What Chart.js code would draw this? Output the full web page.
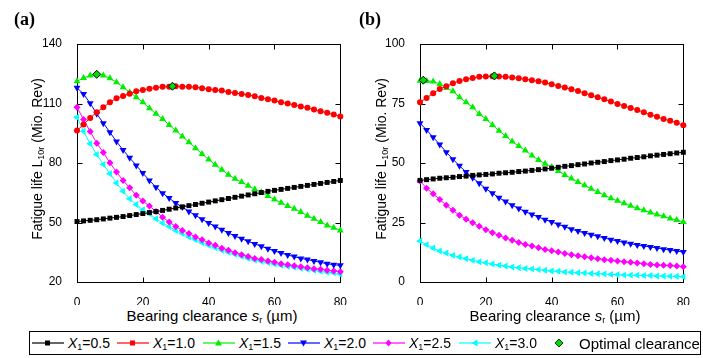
<!DOCTYPE html>
<html>
<head>
<meta charset="utf-8">
<script src="https://cdn.jsdelivr.net/npm/chart.js@4/dist/chart.umd.min.js"></script>
<style>
  body { margin: 0; background: #fff; font-family: "Liberation Sans", Arial, sans-serif; color: #000; }
  #wrap { position: relative; width: 703px; height: 358px; overflow: hidden; }
  canvas { position: absolute; top: 0; }
  .panel { position: absolute; top: 9px; font: bold 18px "Liberation Serif", serif; }
  .ytitle { position: absolute; font-size: 14px; white-space: nowrap; transform: translate(-50%, -50%) rotate(-90deg); }
  .xtitle { position: absolute; font-size: 15px; white-space: nowrap; transform: translate(-50%, -50%); }
  sub { font-size: 9px; vertical-align: -2px; line-height: 0; }
  #legend { position: absolute; left: 29px; top: 331px; width: 670px; height: 22px; border: 1px solid #000; }
  .lg { position: absolute; top: 0; height: 22px; display: flex; align-items: center; font-size: 14px; white-space: nowrap; }
  .lg svg { margin-right: 4px; }
</style>
</head>
<body>
<div id="wrap">
  <canvas id="chartA" width="352" height="305" style="left:0px"></canvas>
  <canvas id="chartB" width="352" height="305" style="left:343px"></canvas>
  <div class="panel" style="left:14px">(a)</div>
  <div class="panel" style="left:359px">(b)</div>
  <div class="ytitle" style="left:37px; top:159px">Fatigue life L<sub>10r</sub> (Mio. Rev)</div>
  <div class="ytitle" style="left:381px; top:159px">Fatigue life L<sub>10r</sub> (Mio. Rev)</div>
  <div class="xtitle" style="left:212px; top:315px">Bearing clearance <i>s</i><sub>r</sub> (µm)</div>
  <div class="xtitle" style="left:555px; top:315px">Bearing clearance <i>s</i><sub>r</sub> (µm)</div>
  <div id="legend"></div>
</div>
<script>
// bearing clearance (µm)
var clearance = [0, 2, 4, 6, 8, 10, 12, 14, 16, 18, 20, 22, 24, 26, 28, 30, 32, 34, 36, 38, 40,
                 42, 44, 46, 48, 50, 52, 54, 56, 58, 60, 62, 64, 66, 68, 70, 72, 74, 76, 78, 80];

var seriesLabels = ['0.5', '1.0', '1.5', '2.0', '2.5', '3.0'];

// panel (a)
var a_x05 = [50.5, 50.8, 51.1, 51.4, 51.8, 52.2, 52.6, 53.0, 53.5, 54.0, 54.5, 55.0, 55.5, 56.1, 56.7, 57.3, 57.9, 58.5, 59.1, 59.7, 60.3,
             60.9, 61.5, 62.1, 62.7, 63.3, 63.9, 64.5, 65.1, 65.7, 66.2, 66.7, 67.2, 67.7, 68.2, 68.7, 69.2, 69.7, 70.2, 70.7, 71.2];
var a_x10 = [96.4, 99.4, 102.7, 105.6, 108.1, 110.6, 112.6, 113.8, 114.9, 116.2, 116.8, 117.5, 118.0, 118.4, 118.5, 118.7, 118.5, 118.5, 118.2, 117.7, 117.2,
             116.8, 116.5, 115.8, 115.3, 114.8, 114.3, 113.7, 112.8, 112.1, 111.5, 110.6, 110.0, 109.3, 108.5, 107.8, 107.0, 106.1, 105.3, 104.4, 103.4];
var a_x15 = [121.2, 122.9, 124.1, 124.7, 124.1, 122.7, 120.7, 118.2, 115.7, 113.2, 110.6, 107.6, 104.8, 102.2, 99.2, 96.4, 93.4, 90.5, 87.5, 84.6, 81.8,
             79.1, 76.6, 74.1, 72.0, 70.4, 68.5, 66.8, 65.2, 63.3, 61.6, 60.0, 58.3, 56.9, 55.3, 53.4, 51.9, 50.2, 48.5, 47.4, 46.0];
var a_x20 = [117.9, 114.8, 110.1, 104.8, 100.1, 95.5, 90.8, 86.6, 82.6, 78.8, 74.9, 71.2, 67.8, 64.8, 62.3, 59.8, 57.8, 55.6, 53.6, 51.6, 49.7,
             48.0, 46.4, 44.7, 43.2, 41.8, 40.5, 39.2, 38.0, 36.8, 35.6, 34.6, 33.6, 32.8, 31.9, 31.3, 30.6, 29.9, 29.2, 28.7, 28.4];
var a_x25 = [108.1, 101.9, 95.9, 90.0, 85.3, 80.1, 75.4, 71.2, 67.5, 63.7, 60.8, 58.3, 55.6, 52.7, 50.2, 48.0, 46.0, 44.4, 42.7, 41.3, 39.7,
             38.5, 37.0, 36.0, 34.8, 33.8, 32.8, 31.9, 31.3, 30.6, 29.9, 29.2, 28.7, 28.2, 27.7, 27.2, 26.7, 26.4, 25.9, 25.6, 25.2];
var a_x30 = [103.1, 96.0, 89.7, 84.3, 79.3, 74.6, 69.9, 65.8, 62.0, 59.1, 56.4, 54.4, 51.9, 49.7, 48.0, 46.0, 44.4, 42.7, 41.3, 39.8, 38.5,
             37.3, 36.0, 35.0, 34.0, 33.0, 31.9, 31.1, 30.4, 29.8, 29.1, 28.4, 27.9, 27.4, 26.9, 26.4, 25.9, 25.4, 24.9, 24.6, 23.9];
var a_optX = [6, 29];
var a_optY = [124.7, 118.7];

// panel (b)
var b_x05 = [42.7, 43.0, 43.3, 43.6, 43.8, 44.0, 44.3, 44.5, 44.8, 45.0, 45.2, 45.4, 45.7, 45.9, 46.1, 46.4, 46.6, 46.9, 47.2, 47.5, 47.8,
             48.2, 48.6, 48.9, 49.3, 49.6, 50.0, 50.3, 50.6, 51.0, 51.3, 51.6, 52.0, 52.3, 52.6, 53.0, 53.3, 53.6, 53.9, 54.2, 54.5];
var b_x10 = [75.5, 77.3, 79.3, 81.1, 82.2, 83.5, 84.5, 85.2, 85.7, 86.2, 86.3, 86.4, 86.3, 86.2, 85.9, 85.6, 85.2, 84.8, 84.3, 83.8, 83.1,
             82.4, 81.7, 81.0, 80.3, 79.3, 78.5, 77.6, 76.8, 75.8, 74.8, 74.0, 73.1, 72.3, 71.3, 70.3, 69.4, 68.5, 67.7, 66.9, 65.9];
var b_x15 = [84.6, 84.5, 84.2, 83.2, 81.5, 80.1, 77.6, 75.5, 73.4, 70.6, 68.5, 66.0, 63.6, 61.3, 59.0, 57.1, 55.2, 53.1, 51.3, 49.7, 48.3,
             46.6, 45.0, 43.5, 42.0, 40.6, 39.2, 37.8, 36.5, 35.2, 34.1, 33.1, 32.0, 31.0, 30.1, 29.2, 28.4, 27.6, 26.7, 26.0, 25.2];
var b_x20 = [66.7, 63.9, 60.8, 57.8, 54.5, 51.6, 48.8, 46.2, 43.8, 41.5, 39.2, 37.3, 35.4, 33.8, 32.3, 30.9, 29.5, 28.4, 27.3, 26.2, 25.2,
             24.2, 23.2, 22.2, 21.4, 20.6, 19.9, 19.2, 18.5, 17.8, 17.2, 16.6, 16.1, 15.5, 15.1, 14.7, 14.3, 13.8, 13.4, 13.0, 12.6];
var b_x25 = [42.4, 39.4, 37.1, 34.7, 32.2, 30.1, 28.0, 26.4, 24.9, 23.4, 22.0, 20.7, 19.6, 18.5, 17.5, 16.6, 15.8, 15.1, 14.4, 13.7, 13.1,
             12.6, 12.0, 11.5, 11.0, 10.6, 10.2, 9.8, 9.4, 9.1, 8.8, 8.5, 8.3, 8.0, 7.7, 7.4, 7.1, 7.0, 6.9, 6.7, 6.4];
var b_x30 = [17.2, 15.7, 14.3, 13.0, 12.2, 11.2, 10.5, 9.8, 9.1, 8.5, 8.1, 7.6, 7.1, 6.7, 6.3, 6.0, 5.7, 5.5, 5.2, 4.9, 4.6,
             4.5, 4.2, 4.1, 3.9, 3.8, 3.6, 3.5, 3.4, 3.2, 3.1, 2.9, 2.9, 2.8, 2.7, 2.7, 2.5, 2.5, 2.4, 2.4, 2.2];
var b_optX = [1, 22.6];
var b_optY = [84.8, 86.6];

// marker look per series
var colors = ['#000000', '#ff0000', '#00ee00', '#0000ff', '#ff00ff', '#00ffff'];
var styles = ['rect', 'circle', 'triangle', 'triangle', 'rectRot', 'triangle'];
var rotations = [0, 0, 0, 180, 0, 270];
var radii = [3.5, 3, 4, 4, 3.5, 4];

function pts(xs, ys) {
    return xs.map(function (x, i) { return { x: x, y: ys[i] }; });
}

// box round the plot area with ticks pointing inwards on all four sides
var frame = {
    id: 'frame',
    beforeDatasetsDraw(chart) {
        let ctx = chart.ctx;
        let a = chart.chartArea;
        let x = chart.scales.x, y = chart.scales.y;
        let l = Math.round(a.left) + 0.5, r = Math.round(a.right) + 0.5;
        let t = Math.round(a.top) + 0.5, b = Math.round(a.bottom) + 0.5;
        ctx.save();
        ctx.strokeStyle = '#000';
        ctx.lineWidth = 1;
        ctx.strokeRect(l, t, r - l, b - t);
        ctx.beginPath();
        x.ticks.forEach(function (tk) {
            let px = Math.round(x.getPixelForValue(tk.value)) + 0.5;
            ctx.moveTo(px, b); ctx.lineTo(px, b - 5);
            ctx.moveTo(px, t); ctx.lineTo(px, t + 5);
        });
        y.ticks.forEach(function (tk) {
            let py = Math.round(y.getPixelForValue(tk.value)) + 0.5;
            ctx.moveTo(l, py); ctx.lineTo(l + 5, py);
            ctx.moveTo(r, py); ctx.lineTo(r - 5, py);
        });
        ctx.stroke();
        ctx.restore();
    }
};

function createChart(canvasId, series, optX, optY, yMin, yMax, yStep) {
    let datasets = [{
        label: 'Optimal clearance',
        data: pts(optX, optY),
        showLine: false,
        pointStyle: 'rectRot',
        pointRadius: 4,
        backgroundColor: '#00dd00',
        borderColor: '#000',
        borderWidth: 1,
        clip: false,
        order: 0
    }];
    series.forEach(function (ys, i) {
        datasets.push({
            label: 'X1=' + seriesLabels[i],
            data: pts(clearance, ys),
            borderColor: colors[i],
            backgroundColor: colors[i],
            borderWidth: 1,
            pointStyle: styles[i],
            pointRotation: rotations[i],
            pointRadius: radii[i],
            pointBorderWidth: 0,
            tension: 0,
            clip: false,
            order: 1
        });
    });
    let tickFont = { family: '"Liberation Sans", Arial, sans-serif', size: 12 };
    return new Chart(document.getElementById(canvasId).getContext('2d'), {
        type: 'line',
        data: { datasets: datasets },
        options: {
            responsive: false,
            animation: false,
            events: [],
            layout: { padding: { top: 44, right: 5, left: 0, bottom: 0 } },
            plugins: { legend: { display: false }, tooltip: { enabled: false } },
            scales: {
                x: {
                    type: 'linear', min: 0, max: 80,
                    grid: { display: false }, border: { display: false },
                    ticks: { stepSize: 20, color: '#000', font: tickFont, padding: 5, maxRotation: 0 },
                    afterFit: function (s) { s.height = 23; }
                },
                y: {
                    min: yMin, max: yMax,
                    grid: { display: false }, border: { display: false },
                    ticks: { stepSize: yStep, color: '#000', font: tickFont, padding: 7 },
                    afterFit: function (s) { s.width = 77; }
                }
            }
        },
        plugins: [frame]
    });
}

createChart('chartA', [a_x05, a_x10, a_x15, a_x20, a_x25, a_x30], a_optX, a_optY, 20, 140, 30);
createChart('chartB', [b_x05, b_x10, b_x15, b_x20, b_x25, b_x30], b_optX, b_optY, 0, 100, 25);

// legend below both panels
var legendLeft = [2, 87, 173, 258, 343, 429];
function markerSvg(i) {
    let c = colors[i];
    let m = '';
    if (i === 0) m = '<rect x="13" y="2.5" width="5" height="5" fill="' + c + '"/>';
    if (i === 1) m = '<rect x="13" y="2.5" width="5" height="5" fill="' + c + '"/>';
    if (i === 2) m = '<polygon points="15.5,1.5 19,7.5 12,7.5" fill="' + c + '"/>';
    if (i === 3) m = '<polygon points="12,2.5 19,2.5 15.5,8.5" fill="' + c + '"/>';
    if (i === 4) m = '<polygon points="15.5,1.5 18.5,5 15.5,8.5 12.5,5" fill="' + c + '"/>';
    if (i === 5) m = '<polygon points="12.5,5 18.5,1.5 18.5,8.5" fill="' + c + '"/>';
    return '<svg width="32" height="10"><line x1="0" y1="5" x2="32" y2="5" stroke="' + c + '" stroke-width="1.2"/>' + m + '</svg>';
}
var html = '';
seriesLabels.forEach(function (lab, i) {
    html += '<div class="lg" style="left:' + legendLeft[i] + 'px">' + markerSvg(i) +
            '<span><i>X</i><sub>1</sub>=' + lab + '</span></div>';
});
html += '<div class="lg" style="left:524px"><svg width="10" height="10" style="margin-right:15px">' +
        '<polygon points="5,1 9,5 5,9 1,5" fill="#00dd00" stroke="#000" stroke-width="0.8"/></svg>' +
        '<span style="font-size:15px">Optimal clearance</span></div>';
document.getElementById('legend').innerHTML = html;
</script>
</body>
</html>
